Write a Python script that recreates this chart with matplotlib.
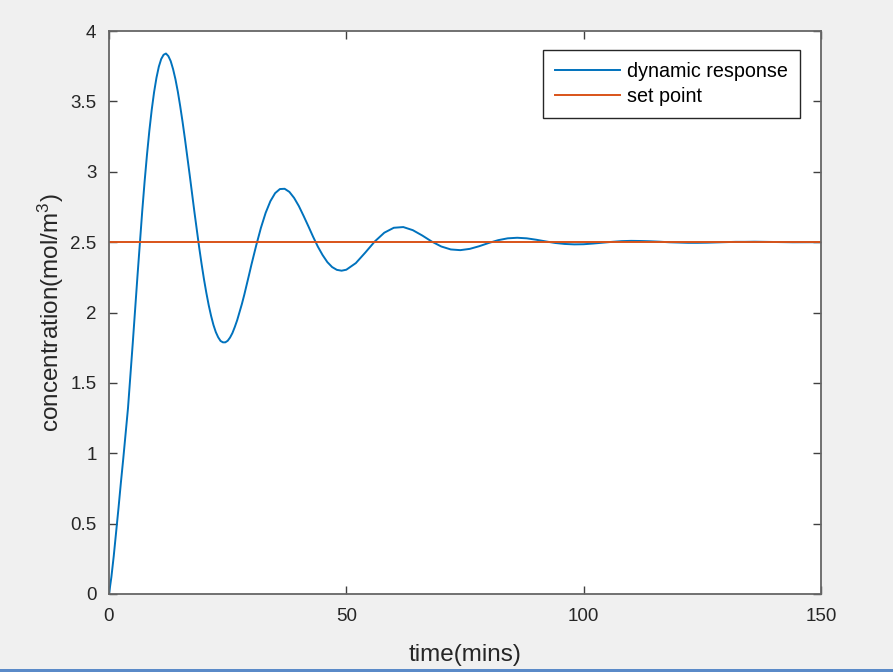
import matplotlib
matplotlib.use("Agg")
import matplotlib.pyplot as plt
from matplotlib.patches import Rectangle

plt.rcParams['font.family'] = ['Liberation Sans', 'DejaVu Sans']
plt.rcParams['mathtext.default'] = 'regular'

# Data
time_mins = [0, 0.5, 1, 1.5, 2, 2.5, 3, 3.5, 4, 5, 6, 7, 7.5, 8, 8.5, 9, 9.5, 10, 10.5,
             11, 11.5, 12, 12.5, 13, 13.5, 14, 14.5, 15, 15.5, 16, 16.5, 17, 17.5, 18,
             18.5, 19, 19.5, 20, 20.5, 21, 21.5, 22, 22.5, 23, 23.5, 24, 24.5, 25, 25.5,
             26, 26.5, 27, 27.5, 28, 28.5, 29, 29.5, 30, 31, 32, 33,
             34, 35, 36, 37, 38, 39, 40, 41, 42, 43, 44, 45, 46, 47, 48, 49, 50,
             52, 54, 56, 58, 60, 62, 64, 66, 68, 70, 72, 74, 76, 78, 80, 82, 84, 86,
             88, 90, 92, 94, 96, 98, 100, 102, 104, 106, 108, 110, 112, 114, 116, 118,
             120, 122, 124, 126, 128, 130, 132, 134, 136, 138, 140, 142, 144, 146, 148, 150]
concentration = [0.0, 0.12, 0.27, 0.44, 0.61, 0.79, 0.96, 1.14, 1.32, 1.78, 2.26, 2.72,
                 2.93, 3.12, 3.291, 3.44, 3.566, 3.668, 3.747, 3.801, 3.831, 3.84, 3.822,
                 3.786, 3.729, 3.657, 3.569, 3.466, 3.354, 3.233, 3.106, 2.977, 2.844, 2.713,
                 2.585, 2.462, 2.346, 2.238, 2.141, 2.053, 1.977, 1.912, 1.861, 1.824, 1.798,
                 1.788, 1.788, 1.799, 1.822, 1.854, 1.897, 1.945, 2.002, 2.061, 2.126, 2.195,
                 2.267, 2.339, 2.475, 2.601, 2.708, 2.791, 2.848, 2.877, 2.879, 2.857, 2.814,
                 2.756, 2.686, 2.613, 2.538, 2.468, 2.408, 2.358, 2.323, 2.303, 2.297, 2.304,
                 2.351, 2.426, 2.505, 2.567, 2.602, 2.607, 2.585, 2.547, 2.504, 2.469, 2.448,
                 2.443, 2.452, 2.471, 2.494, 2.514, 2.527, 2.531, 2.527, 2.517, 2.505, 2.494,
                 2.487, 2.484, 2.485, 2.490, 2.496, 2.502, 2.507, 2.509, 2.508, 2.506, 2.503,
                 2.499, 2.497, 2.495, 2.495, 2.496, 2.498, 2.500, 2.502, 2.502, 2.503, 2.502,
                 2.501, 2.500, 2.499, 2.499, 2.499, 2.4995]
setpoint_time = [0, 150]
setpoint_value = [2.5, 2.5]

x_ticks = [0, 50, 100, 150]
y_ticks = [0, 0.5, 1, 1.5, 2, 2.5, 3, 3.5, 4]
y_tick_labels = ['0', '0.5', '1', '1.5', '2', '2.5', '3', '3.5', '4']

fig = plt.figure(figsize=(8.93, 6.72), dpi=100, facecolor='#f0f0f0')
ax = fig.add_axes([109/893, 1 - 594/672, 712/893, 563/672])
ax.set_facecolor('white')

ax.plot(time_mins, concentration, color='#0072BD', lw=1.4, label='dynamic response',
        solid_joinstyle='round')
ax.plot(setpoint_time, setpoint_value, color='#D95319', lw=1.4, label='set point')

ax.set_xlim(0, 150)
ax.set_ylim(0, 4)
ax.set_xticks(x_ticks)
ax.set_yticks(y_ticks)
ax.set_yticklabels(y_tick_labels)

axis_col = '#666666'
for s in ax.spines.values():
    s.set_color(axis_col)
    s.set_linewidth(1.3)
ax.tick_params(direction='in', length=6, width=1.0, color='#404040',
               top=True, right=True, labelsize=13.5, labelcolor='#262626')
ax.tick_params(axis='x', pad=10)
ax.tick_params(axis='y', pad=9)

ax.set_xlabel('time(mins)', fontsize=17.5, color='#262626', labelpad=14)
ax.set_ylabel('concentration(mol/m$^{3}$)', fontsize=17.5, color='#262626', labelpad=3)

leg = ax.legend(loc='upper right', bbox_to_anchor=((800-109)/712, (594-50)/563),
                borderaxespad=0, fontsize=14.2, handlelength=3.3, handletextpad=0.35,
                fancybox=False, framealpha=1, edgecolor='#262626', borderpad=0.6,
                labelspacing=0.3)
leg.get_frame().set_linewidth(1.0)

# window chrome: thin blue line at the bottom
fig.patches.append(Rectangle((0, 0), 1, 3/672, transform=fig.transFigure,
                             facecolor='#5a8ac8', edgecolor='none'))

fig.savefig('out.png', dpi=100, facecolor=fig.get_facecolor())
